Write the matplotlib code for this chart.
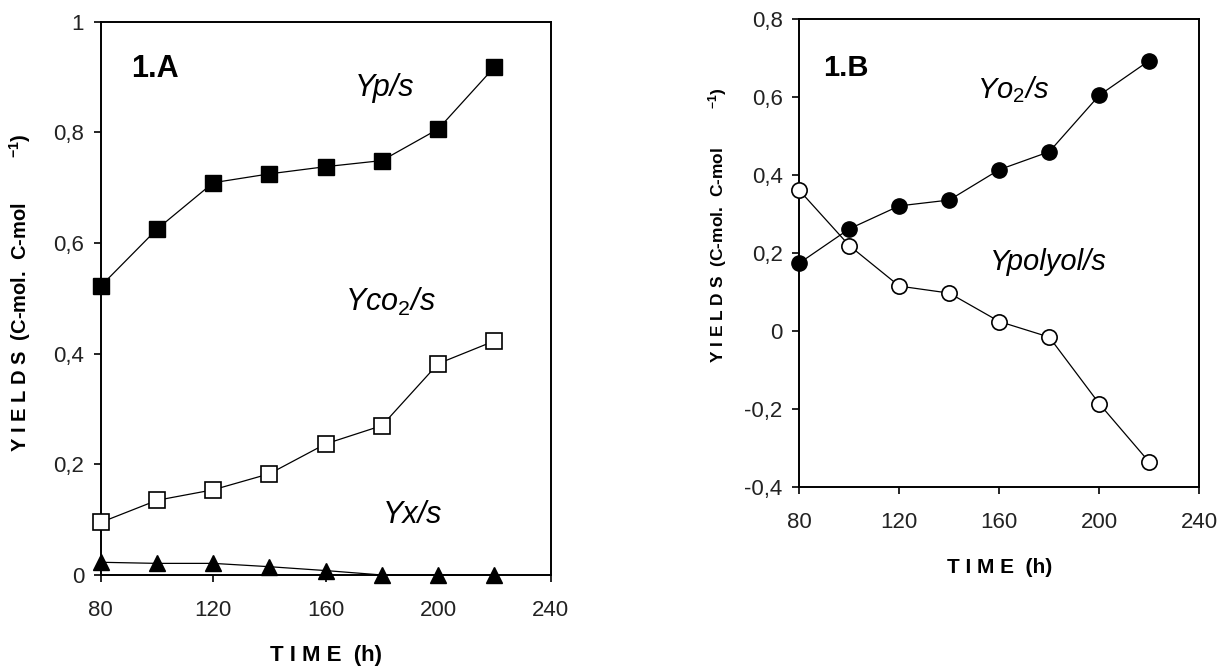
import matplotlib
matplotlib.use("Agg")
import matplotlib.pyplot as plt
from matplotlib.ticker import FuncFormatter, FixedLocator

plt.rcParams['font.family'] = ['Liberation Sans', 'DejaVu Sans']
plt.rcParams['mathtext.fontset'] = 'custom'
plt.rcParams['mathtext.rm'] = 'Liberation Sans'
plt.rcParams['mathtext.it'] = 'Liberation Sans:italic'
plt.rcParams['mathtext.bf'] = 'Liberation Sans:bold'

time_h = [80, 100, 120, 140, 160, 180, 200, 220]

# Panel 1.A
yp_s = [0.522, 0.625, 0.709, 0.725, 0.738, 0.749, 0.806, 0.918]
yco2_s = [0.095, 0.135, 0.154, 0.183, 0.237, 0.270, 0.382, 0.423]
yx_s = [0.023, 0.021, 0.021, 0.015, 0.008, 0.0, 0.0, 0.0]

# Panel 1.B
yo2_s = [0.174, 0.262, 0.321, 0.336, 0.414, 0.460, 0.605, 0.694]
ypolyol_s = [0.361, 0.219, 0.115, 0.097, 0.024, -0.016, -0.187, -0.337]

xticks = [80, 120, 160, 200, 240]
yticks_a = [0, 0.2, 0.4, 0.6, 0.8, 1.0]
yticks_b = [-0.4, -0.2, 0, 0.2, 0.4, 0.6, 0.8]

W, H = 1222, 671
fig = plt.figure(figsize=(W / 100, H / 100), dpi=100)

ax1 = fig.add_axes([100.7 / W, (H - 575) / H, 450 / W, 553.3 / H])
ax2 = fig.add_axes([799.3 / W, (H - 486.7) / H, 400 / W, 467.4 / H])


def comma(v, pos):
    if abs(v) < 1e-9:
        return "0"
    s = f"{v:.1f}".rstrip('0').rstrip('.')
    return s.replace('.', ',')


lw = 0.9
ax1.plot(time_h, yp_s, '-', color='black', lw=lw, marker='s', ms=12,
         mfc='black', mec='black', clip_on=False, zorder=3)
ax1.plot(time_h, yco2_s, '-', color='black', lw=lw, marker='s', ms=12,
         mfc='white', mec='black', mew=1.2, clip_on=False, zorder=3)
ax1.plot(time_h, yx_s, '-', color='black', lw=lw, marker='^', ms=12,
         mfc='black', mec='black', clip_on=False, zorder=3)

ax2.plot(time_h, yo2_s, '-', color='black', lw=lw, marker='o', ms=11,
         mfc='black', mec='black', clip_on=False, zorder=3)
ax2.plot(time_h, ypolyol_s, '-', color='black', lw=lw, marker='o', ms=11,
         mfc='white', mec='black', mew=1.2, clip_on=False, zorder=3)

for ax, yt, ylim in ((ax1, yticks_a, (0, 1)), (ax2, yticks_b, (-0.4, 0.8))):
    ax.set_xlim(80, 240)
    ax.set_ylim(*ylim)
    ax.xaxis.set_major_locator(FixedLocator(xticks))
    ax.yaxis.set_major_locator(FixedLocator(yt))
    ax.yaxis.set_major_formatter(FuncFormatter(comma))
    ax.tick_params(direction='out', length=5, width=1.2, labelsize=16,
                   labelcolor='#222222', color='black')
    ax.tick_params(axis='y', pad=7)
    ax.tick_params(axis='x', pad=13)
    for sp in ax.spines.values():
        sp.set_linewidth(1.4)
        sp.set_color('black')

ylab = r"Y I E L D S  (C-mol.  C-mol        $\mathbf{^{-1}}$)"
ax1.set_xlabel("T I M E  (h)", fontsize=16, fontweight='bold')
ax1.xaxis.set_label_coords(0.5, -0.1265)
ax1.set_ylabel(ylab, fontsize=14.5, fontweight='bold')
ax1.yaxis.set_label_coords(-0.150, 0.511)

ax2.set_xlabel("T I M E  (h)", fontsize=15, fontweight='bold')
ax2.xaxis.set_label_coords(0.5, -0.1525)
ax2.set_ylabel(ylab, fontsize=12.5, fontweight='bold')
ax2.yaxis.set_label_coords(-0.176, 0.56)

ax1.text(99.4, 0.914, "1.A", fontsize=22, fontweight='bold', ha='center', va='center')
ax1.text(181, 0.880, "Yp/s", fontsize=22, fontstyle='italic', ha='center', va='center')
ax1.text(183, 0.493, r"Yco$_{2}$/s", fontsize=22, fontstyle='italic', ha='center', va='center')
ax1.text(191, 0.108, "Yx/s", fontsize=22, fontstyle='italic', ha='center', va='center')

ax2.text(98.7, 0.674, "1.B", fontsize=21, fontweight='bold', ha='center', va='center')
ax2.text(165.7, 0.620, r"Yo$_{2}$/s", fontsize=21, fontstyle='italic', ha='center', va='center')
ax2.text(179.5, 0.177, "Ypolyol/s", fontsize=21, fontstyle='italic', ha='center', va='center')

fig.savefig("out.png", dpi=100)
